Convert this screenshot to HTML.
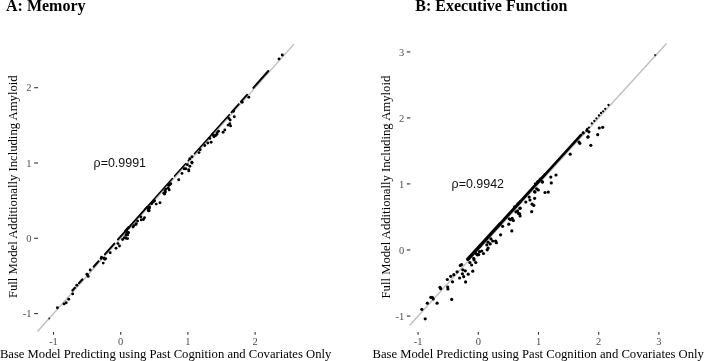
<!DOCTYPE html>
<html><head><meta charset="utf-8"><style>
html,body{margin:0;padding:0;background:#fff;width:704px;height:361px;overflow:hidden}
svg{display:block;filter:blur(0.3px)}
</style></head><body>
<svg width="704" height="361" viewBox="0 0 704 361">
<rect width="704" height="361" fill="#fff"/>
<g font-family="Liberation Serif">
<text x="6" y="11.2" font-weight="bold" font-size="16">A: Memory</text>
<text x="415.3" y="11.3" font-weight="bold" font-size="16">B: Executive Function</text>
<text transform="translate(17,186.7) rotate(-90)" text-anchor="middle" font-size="12.7">Full Model Additionally Including Amyloid</text>
<text transform="translate(390,187.1) rotate(-90)" text-anchor="middle" font-size="12.7">Full Model Additionally Including Amyloid</text>
<text x="165.6" y="358.3" text-anchor="middle" font-size="12.65">Base Model Predicting using Past Cognition and Covariates Only</text>
<text x="538.2" y="358.3" text-anchor="middle" font-size="12.65">Base Model Predicting using Past Cognition and Covariates Only</text>
</g>
<g font-family="Liberation Serif" font-size="10.5" fill="#4d4d4d" stroke="#333" stroke-width="1.1">
<style>.tk{stroke:none} .tm{fill:none}</style>
<text x="31.4" y="91.3" text-anchor="end" class="tk">2</text><line x1="34.2" x2="38" y1="87.7" y2="87.7" class="tm"/><text x="31.4" y="166.6" text-anchor="end" class="tk">1</text><line x1="34.2" x2="38" y1="163.0" y2="163.0" class="tm"/><text x="31.4" y="241.9" text-anchor="end" class="tk">0</text><line x1="34.2" x2="38" y1="238.3" y2="238.3" class="tm"/><text x="31.4" y="317.2" text-anchor="end" class="tk">-1</text><line x1="34.2" x2="38" y1="313.6" y2="313.6" class="tm"/><text x="404.2" y="55.5" text-anchor="end" class="tk">3</text><line x1="406.8" x2="410.3" y1="51.9" y2="51.9" class="tm"/><text x="404.2" y="121.5" text-anchor="end" class="tk">2</text><line x1="406.8" x2="410.3" y1="117.9" y2="117.9" class="tm"/><text x="404.2" y="187.5" text-anchor="end" class="tk">1</text><line x1="406.8" x2="410.3" y1="183.9" y2="183.9" class="tm"/><text x="404.2" y="253.6" text-anchor="end" class="tk">0</text><line x1="406.8" x2="410.3" y1="250.0" y2="250.0" class="tm"/><text x="404.2" y="319.7" text-anchor="end" class="tk">-1</text><line x1="406.8" x2="410.3" y1="316.1" y2="316.1" class="tm"/><text x="53.5" y="345.0" text-anchor="middle" class="tk">-1</text><line x1="53.5" x2="53.5" y1="332" y2="334.7" class="tm"/><text x="120.7" y="345.0" text-anchor="middle" class="tk">0</text><line x1="120.7" x2="120.7" y1="332" y2="334.7" class="tm"/><text x="187.9" y="345.0" text-anchor="middle" class="tk">1</text><line x1="187.9" x2="187.9" y1="332" y2="334.7" class="tm"/><text x="255.1" y="345.0" text-anchor="middle" class="tk">2</text><line x1="255.1" x2="255.1" y1="332" y2="334.7" class="tm"/><text x="418.1" y="345.0" text-anchor="middle" class="tk">-1</text><line x1="418.1" x2="418.1" y1="332" y2="334.7" class="tm"/><text x="478.3" y="345.0" text-anchor="middle" class="tk">0</text><line x1="478.3" x2="478.3" y1="332" y2="334.7" class="tm"/><text x="538.5" y="345.0" text-anchor="middle" class="tk">1</text><line x1="538.5" x2="538.5" y1="332" y2="334.7" class="tm"/><text x="598.7" y="345.0" text-anchor="middle" class="tk">2</text><line x1="598.7" x2="598.7" y1="332" y2="334.7" class="tm"/><text x="658.9" y="345.0" text-anchor="middle" class="tk">3</text><line x1="658.9" x2="658.9" y1="332" y2="334.7" class="tm"/>
</g>
<g font-family="Liberation Sans" font-size="12.45" fill="#111">
<text x="93.6" y="167.3">ρ=0.9991</text>
<text x="451.6" y="187.9">ρ=0.9942</text>
</g>
<line x1="37.5" y1="331.5" x2="294" y2="44.1" stroke="#bebebe" stroke-width="1.4"/>
<line x1="409.75" y1="325.2" x2="666.5" y2="43.5" stroke="#bebebe" stroke-width="1.4"/>
<g stroke="#000" stroke-linecap="round"><line x1="72.4" y1="290.52" x2="74.9" y2="287.72" stroke-width="2.2"/><line x1="79.0" y1="283.13" x2="82.3" y2="279.43" stroke-width="2.2"/><line x1="93.6" y1="266.77" x2="98.6" y2="261.16" stroke-width="2.0"/><line x1="104.8" y1="254.27" x2="114.3" y2="243.57" stroke-width="1.9"/><line x1="118.0" y1="239.43" x2="131.7" y2="224.07" stroke-width="1.9"/><line x1="132.6" y1="223.07" x2="147.1" y2="206.82" stroke-width="1.8"/><line x1="145.0" y1="209.17" x2="172.4" y2="178.47" stroke-width="1.5"/><line x1="174.5" y1="176.12" x2="185.8" y2="163.51" stroke-width="1.5"/><line x1="188.2" y1="160.71" x2="189.9" y2="158.86" stroke-width="1.5"/><line x1="194.4" y1="153.82" x2="212.8" y2="133.25" stroke-width="1.5"/><line x1="211.8" y1="134.32" x2="229.3" y2="114.71" stroke-width="1.6"/><line x1="231.4" y1="112.36" x2="238.8" y2="104.06" stroke-width="1.8"/><line x1="240.9" y1="101.71" x2="247.2" y2="94.65" stroke-width="1.9"/><line x1="253.3" y1="87.82" x2="268.3" y2="71.01" stroke-width="2.0"/><line x1="467.8" y1="259.22" x2="480.0" y2="245.83" stroke-width="3.5"/><line x1="480.0" y1="245.83" x2="500.0" y2="223.89" stroke-width="3.3"/><line x1="500.0" y1="223.89" x2="520.0" y2="201.95" stroke-width="3.0"/><line x1="520.0" y1="201.95" x2="545.0" y2="174.52" stroke-width="2.8"/><line x1="545.0" y1="174.52" x2="581.1" y2="134.91" stroke-width="2.6"/></g>
<g fill="#000">
<circle cx="57.4" cy="307.7" r="1.45"/><circle cx="64.1" cy="303.9" r="1.45"/><circle cx="66.2" cy="302.8" r="1.45"/><circle cx="68.7" cy="299.2" r="1.45"/><circle cx="72.7" cy="293.9" r="1.45"/><circle cx="76.8" cy="285.2" r="1.45"/><circle cx="86.9" cy="274.2" r="1.45"/><circle cx="88.2" cy="276.4" r="1.45"/><circle cx="87.5" cy="275.0" r="1.45"/><circle cx="90.2" cy="270.0" r="1.45"/><circle cx="101.1" cy="258.5" r="1.45"/><circle cx="101.5" cy="257.2" r="1.45"/><circle cx="104.8" cy="259.3" r="1.45"/><circle cx="103.2" cy="263.1" r="1.45"/><circle cx="104.0" cy="258.1" r="1.45"/><circle cx="105.6" cy="258.6" r="1.45"/><circle cx="110.2" cy="252.8" r="1.45"/><circle cx="116.0" cy="248.2" r="1.45"/><circle cx="118.0" cy="243.6" r="1.45"/><circle cx="119.5" cy="246.0" r="1.45"/><circle cx="122.6" cy="239.5" r="1.45"/><circle cx="124.3" cy="237.8" r="1.45"/><circle cx="126.0" cy="238.2" r="1.45"/><circle cx="127.6" cy="238.6" r="1.45"/><circle cx="126.0" cy="235.3" r="1.45"/><circle cx="126.8" cy="233.7" r="1.45"/><circle cx="128.5" cy="232.8" r="1.45"/><circle cx="126.8" cy="233.7" r="1.45"/><circle cx="128.0" cy="232.4" r="1.45"/><circle cx="127.6" cy="234.9" r="1.45"/><circle cx="133.0" cy="227.0" r="1.45"/><circle cx="133.8" cy="225.7" r="1.45"/><circle cx="135.9" cy="224.5" r="1.45"/><circle cx="136.3" cy="223.6" r="1.45"/><circle cx="137.6" cy="221.1" r="1.45"/><circle cx="140.9" cy="217.0" r="1.45"/><circle cx="141.3" cy="219.9" r="1.45"/><circle cx="143.4" cy="219.5" r="1.45"/><circle cx="144.5" cy="217.8" r="1.45"/><circle cx="148.4" cy="210.8" r="1.45"/><circle cx="149.2" cy="208.2" r="1.45"/><circle cx="148.3" cy="209.1" r="1.45"/><circle cx="149.6" cy="207.0" r="1.45"/><circle cx="149.2" cy="210.8" r="1.45"/><circle cx="151.7" cy="203.7" r="1.45"/><circle cx="153.3" cy="202.0" r="1.45"/><circle cx="154.6" cy="200.8" r="1.45"/><circle cx="156.2" cy="204.1" r="1.45"/><circle cx="160.0" cy="202.7" r="1.45"/><circle cx="163.8" cy="193.2" r="1.45"/><circle cx="164.6" cy="194.1" r="1.45"/><circle cx="165.4" cy="192.0" r="1.45"/><circle cx="165.0" cy="190.8" r="1.45"/><circle cx="165.8" cy="189.1" r="1.45"/><circle cx="168.3" cy="188.2" r="1.45"/><circle cx="169.2" cy="189.9" r="1.45"/><circle cx="170.0" cy="184.5" r="1.45"/><circle cx="168.7" cy="185.5" r="1.45"/><circle cx="170.8" cy="183.8" r="1.45"/><circle cx="178.7" cy="179.7" r="1.45"/><circle cx="182.0" cy="173.4" r="1.45"/><circle cx="184.1" cy="168.8" r="1.45"/><circle cx="185.8" cy="168.8" r="1.45"/><circle cx="188.7" cy="169.6" r="1.45"/><circle cx="188.8" cy="170.9" r="1.45"/><circle cx="189.9" cy="166.3" r="1.45"/><circle cx="192.0" cy="163.0" r="1.45"/><circle cx="187.4" cy="164.7" r="1.45"/><circle cx="191.9" cy="162.2" r="1.45"/><circle cx="189.8" cy="158.8" r="1.45"/><circle cx="191.9" cy="156.8" r="1.45"/><circle cx="199.0" cy="152.6" r="1.45"/><circle cx="200.2" cy="149.7" r="1.45"/><circle cx="204.8" cy="145.5" r="1.45"/><circle cx="207.8" cy="143.0" r="1.45"/><circle cx="211.1" cy="142.2" r="1.45"/><circle cx="209.8" cy="138.4" r="1.45"/><circle cx="214.0" cy="136.8" r="1.45"/><circle cx="215.7" cy="135.5" r="1.45"/><circle cx="216.9" cy="134.2" r="1.45"/><circle cx="213.5" cy="135.5" r="1.45"/><circle cx="215.6" cy="135.1" r="1.45"/><circle cx="217.2" cy="132.6" r="1.45"/><circle cx="218.5" cy="131.3" r="1.45"/><circle cx="223.1" cy="132.2" r="1.45"/><circle cx="224.8" cy="130.0" r="1.45"/><circle cx="228.1" cy="125.1" r="1.45"/><circle cx="230.6" cy="125.9" r="1.45"/><circle cx="229.8" cy="123.8" r="1.45"/><circle cx="230.2" cy="120.0" r="1.45"/><circle cx="234.3" cy="116.8" r="1.45"/><circle cx="228.9" cy="118.4" r="1.45"/><circle cx="233.5" cy="111.3" r="1.45"/><circle cx="233.4" cy="111.1" r="1.45"/><circle cx="248.8" cy="97.3" r="1.45"/><circle cx="242.2" cy="102.3" r="1.45"/><circle cx="279.0" cy="58.9" r="1.45"/><circle cx="282.3" cy="55.0" r="1.45"/><circle cx="125.5" cy="231.1" r="1.45"/><circle cx="126.6" cy="229.9" r="1.45"/><circle cx="127.7" cy="228.6" r="1.45"/><circle cx="128.8" cy="227.4" r="1.45"/>
<circle cx="421.8" cy="309.3" r="1.6"/><circle cx="427.3" cy="303.2" r="1.6"/><circle cx="430.8" cy="297.3" r="1.6"/><circle cx="432.5" cy="297.5" r="1.6"/><circle cx="433.2" cy="299.0" r="1.6"/><circle cx="437.1" cy="303.2" r="1.6"/><circle cx="425.2" cy="318.8" r="1.6"/><circle cx="440.0" cy="287.3" r="1.6"/><circle cx="440.7" cy="288.7" r="1.6"/><circle cx="447.7" cy="287.0" r="1.6"/><circle cx="447.9" cy="289.0" r="1.6"/><circle cx="447.3" cy="279.5" r="1.6"/><circle cx="450.7" cy="276.3" r="1.6"/><circle cx="452.5" cy="281.8" r="1.6"/><circle cx="453.8" cy="274.7" r="1.6"/><circle cx="457.1" cy="271.8" r="1.6"/><circle cx="459.6" cy="278.0" r="1.6"/><circle cx="451.7" cy="299.4" r="1.6"/><circle cx="460.3" cy="265.4" r="1.6"/><circle cx="461.6" cy="264.6" r="1.6"/><circle cx="462.8" cy="269.8" r="1.6"/><circle cx="462.4" cy="273.8" r="1.6"/><circle cx="463.7" cy="276.7" r="1.6"/><circle cx="465.3" cy="270.8" r="1.6"/><circle cx="468.2" cy="274.2" r="1.6"/><circle cx="472.8" cy="271.2" r="1.6"/><circle cx="465.6" cy="281.9" r="1.6"/><circle cx="476.0" cy="253.5" r="1.6"/><circle cx="477.7" cy="254.8" r="1.6"/><circle cx="481.8" cy="251.0" r="1.6"/><circle cx="483.5" cy="253.5" r="1.6"/><circle cx="487.2" cy="249.8" r="1.6"/><circle cx="488.1" cy="248.1" r="1.6"/><circle cx="486.8" cy="244.8" r="1.6"/><circle cx="488.1" cy="242.2" r="1.6"/><circle cx="490.2" cy="243.9" r="1.6"/><circle cx="491.0" cy="238.9" r="1.6"/><circle cx="492.7" cy="241.0" r="1.6"/><circle cx="496.4" cy="242.7" r="1.6"/><circle cx="495.6" cy="241.0" r="1.6"/><circle cx="500.6" cy="234.8" r="1.6"/><circle cx="469.9" cy="262.5" r="1.6"/><circle cx="471.6" cy="265.0" r="1.6"/><circle cx="473.7" cy="258.3" r="1.6"/><circle cx="474.1" cy="260.0" r="1.6"/><circle cx="475.8" cy="262.5" r="1.6"/><circle cx="477.0" cy="254.6" r="1.6"/><circle cx="478.7" cy="254.6" r="1.6"/><circle cx="479.5" cy="251.7" r="1.6"/><circle cx="502.6" cy="226.3" r="1.6"/><circle cx="508.8" cy="224.2" r="1.6"/><circle cx="511.8" cy="230.9" r="1.6"/><circle cx="509.2" cy="218.8" r="1.6"/><circle cx="510.5" cy="219.7" r="1.6"/><circle cx="512.2" cy="218.4" r="1.6"/><circle cx="513.4" cy="220.5" r="1.6"/><circle cx="515.9" cy="211.8" r="1.6"/><circle cx="517.6" cy="210.9" r="1.6"/><circle cx="518.4" cy="213.4" r="1.6"/><circle cx="519.7" cy="213.8" r="1.6"/><circle cx="520.1" cy="215.9" r="1.6"/><circle cx="520.1" cy="208.0" r="1.6"/><circle cx="514.7" cy="206.8" r="1.6"/><circle cx="518.0" cy="203.8" r="1.6"/><circle cx="520.0" cy="208.3" r="1.6"/><circle cx="525.8" cy="202.1" r="1.6"/><circle cx="529.2" cy="197.1" r="1.6"/><circle cx="530.0" cy="200.0" r="1.6"/><circle cx="532.1" cy="204.2" r="1.6"/><circle cx="533.8" cy="205.4" r="1.6"/><circle cx="534.6" cy="198.3" r="1.6"/><circle cx="535.0" cy="192.1" r="1.6"/><circle cx="536.7" cy="188.8" r="1.6"/><circle cx="538.3" cy="190.0" r="1.6"/><circle cx="542.1" cy="181.7" r="1.6"/><circle cx="531.7" cy="211.7" r="1.6"/><circle cx="545.0" cy="192.5" r="1.6"/><circle cx="548.3" cy="192.1" r="1.6"/><circle cx="534.6" cy="191.7" r="1.6"/><circle cx="535.4" cy="183.8" r="1.6"/><circle cx="537.9" cy="181.7" r="1.6"/><circle cx="537.8" cy="182.1" r="1.6"/><circle cx="540.3" cy="179.2" r="1.6"/><circle cx="542.4" cy="182.1" r="1.6"/><circle cx="550.8" cy="177.1" r="1.6"/><circle cx="556.0" cy="175.0" r="1.6"/><circle cx="551.3" cy="182.9" r="1.6"/><circle cx="570.2" cy="154.2" r="1.6"/><circle cx="579.0" cy="142.1" r="1.6"/><circle cx="579.8" cy="143.3" r="1.6"/><circle cx="583.2" cy="132.9" r="1.6"/><circle cx="587.8" cy="137.1" r="1.6"/><circle cx="586.9" cy="130.4" r="1.6"/><circle cx="588.9" cy="131.8" r="1.6"/><circle cx="588.1" cy="136.8" r="1.6"/><circle cx="599.3" cy="128.0" r="1.6"/><circle cx="602.7" cy="127.3" r="1.6"/><circle cx="597.7" cy="134.7" r="1.6"/><circle cx="590.8" cy="145.3" r="1.6"/><circle cx="583.1" cy="132.6" r="1.15"/><circle cx="587.2" cy="128.8" r="1.15"/><circle cx="588.9" cy="127.6" r="1.15"/><circle cx="591.8" cy="123.4" r="1.15"/><circle cx="594.3" cy="120.9" r="1.15"/><circle cx="596.4" cy="118.4" r="1.15"/><circle cx="598.9" cy="115.5" r="1.15"/><circle cx="601.0" cy="113.0" r="1.15"/><circle cx="603.1" cy="111.3" r="1.15"/><circle cx="605.2" cy="108.8" r="1.15"/><circle cx="608.5" cy="105.0" r="1.15"/>
</g>
<g fill="#333"><circle cx="49.2" cy="318.6" r="1.0"/><circle cx="655.2" cy="55.2" r="1.1"/></g>
</svg>
</body></html>
